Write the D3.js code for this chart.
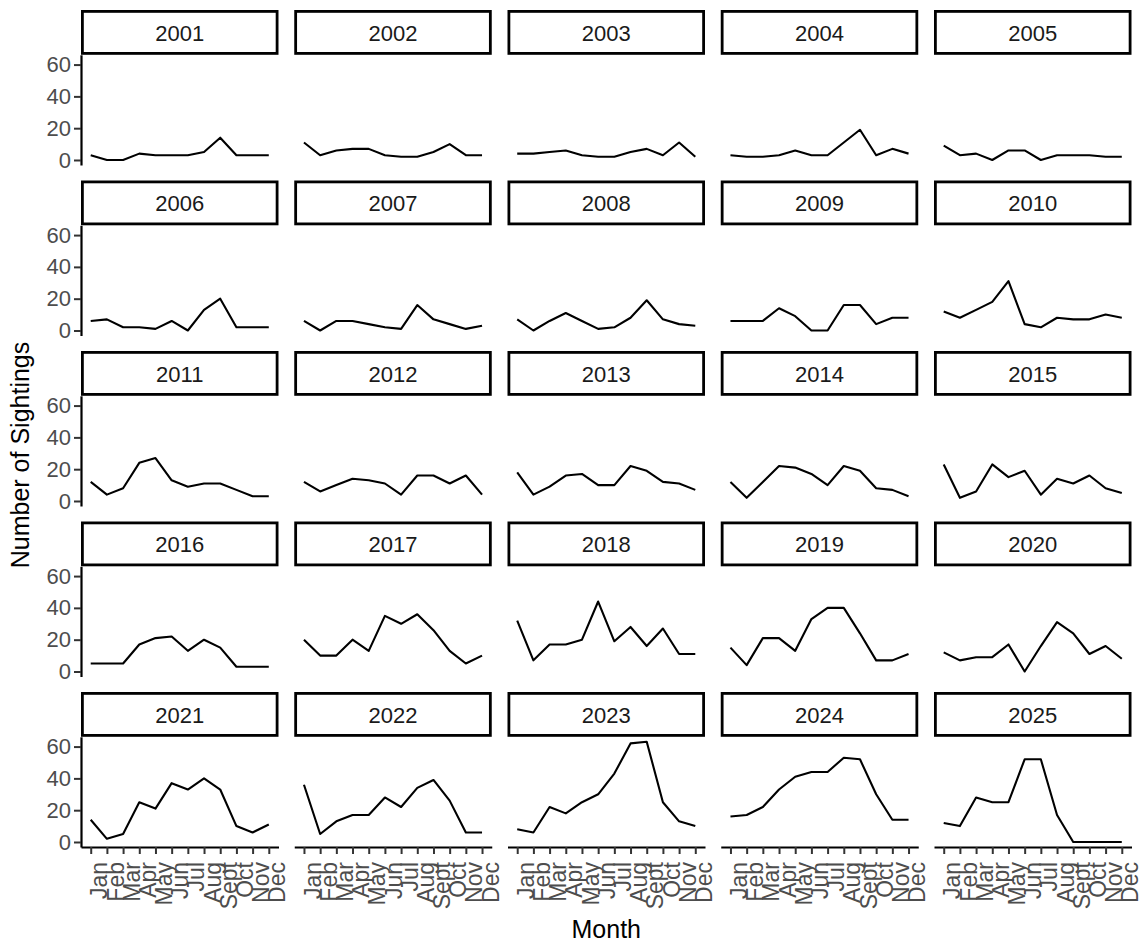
<!DOCTYPE html>
<html lang="en">
<head>
<meta charset="utf-8">
<title>Sightings by month</title>
<script src="https://cdn.jsdelivr.net/npm/d3@7"></script>
<style>
  body { margin: 0; background: #fff; }
  svg text { font-family: "Liberation Sans", Arial, sans-serif; }
</style>
</head>
<body>
<svg width="1144" height="943"></svg>
<script>
// month tick labels and facet years
const months = ["Jan", "Feb", "Mar", "Apr", "May", "Jun", "Jul", "Aug", "Sept", "Oct", "Nov", "Dec"];
const years = [2001, 2002, 2003, 2004, 2005, 2006, 2007, 2008, 2009, 2010,
               2011, 2012, 2013, 2014, 2015, 2016, 2017, 2018, 2019, 2020,
               2021, 2022, 2023, 2024, 2025];

// sightings per month, one row per year
const sightings = [
  [3, 0, 0, 4, 3, 3, 3, 5, 14, 3, 3, 3],
  [11, 3, 6, 7, 7, 3, 2, 2, 5, 10, 3, 3],
  [4, 4, 5, 6, 3, 2, 2, 5, 7, 3, 11, 2],
  [3, 2, 2, 3, 6, 3, 3, 11, 19, 3, 7, 4],
  [9, 3, 4, 0, 6, 6, 0, 3, 3, 3, 2, 2],
  [6, 7, 2, 2, 1, 6, 0, 13, 20, 2, 2, 2],
  [6, 0, 6, 6, 4, 2, 1, 16, 7, 4, 1, 3],
  [7, 0, 6, 11, 6, 1, 2, 8, 19, 7, 4, 3],
  [6, 6, 6, 14, 9, 0, 0, 16, 16, 4, 8, 8],
  [12, 8, 13, 18, 31, 4, 2, 8, 7, 7, 10, 8],
  [12, 4, 8, 24, 27, 13, 9, 11, 11, 7, 3, 3],
  [12, 6, 10, 14, 13, 11, 4, 16, 16, 11, 16, 4],
  [18, 4, 9, 16, 17, 10, 10, 22, 19, 12, 11, 7],
  [12, 2, 12, 22, 21, 17, 10, 22, 19, 8, 7, 3],
  [23, 2, 6, 23, 15, 19, 4, 14, 11, 16, 8, 5],
  [5, 5, 5, 17, 21, 22, 13, 20, 15, 3, 3, 3],
  [20, 10, 10, 20, 13, 35, 30, 36, 26, 13, 5, 10],
  [32, 7, 17, 17, 20, 44, 19, 28, 16, 27, 11, 11],
  [15, 4, 21, 21, 13, 33, 40, 40, 24, 7, 7, 11],
  [12, 7, 9, 9, 17, 0, 16, 31, 24, 11, 16, 8],
  [14, 2, 5, 25, 21, 37, 33, 40, 33, 10, 6, 11],
  [36, 5, 13, 17, 17, 28, 22, 34, 39, 26, 6, 6],
  [8, 6, 22, 18, 25, 30, 43, 62, 63, 25, 13, 10],
  [16, 17, 22, 33, 41, 44, 44, 53, 52, 30, 14, 14],
  [12, 10, 28, 25, 25, 52, 52, 17, 0, 0, 0, 0]
];
const yTicks = [0, 20, 40, 60];

const nCols = 5;
const nRows = Math.ceil(years.length / nCols);
const marginLeft = 81, marginTop = 10;
const panelW = 197.5, gapX = 15.75;
const stripH = 44.8, panelH = 110.2, rowStep = 170.5;
const fontStack = '"Liberation Sans", Arial, sans-serif';
const textSize = 22;

const svg = d3.select('svg');

const x = d3.scalePoint().domain(months).range([0, panelW]).padding(0.6);
const maxVal = d3.max(sightings, r => d3.max(r));
const pad = maxVal * 0.05;
const y = d3.scaleLinear().domain([-pad, maxVal + pad]).range([panelH, 0]);

const line = d3.line()
    .x((d, i) => x(months[i]))
    .y(d => y(d));

years.forEach((yr, k) => {
    const col = k % nCols;
    const row = Math.floor(k / nCols);
    const px = marginLeft + col * (panelW + gapX);
    const sy = marginTop + row * rowStep;
    const py = sy + stripH;

    // strip
    const strip = svg.append('g').attr('transform', `translate(${px}, ${sy})`);
    strip.append('rect')
        .attr('x', 1.4).attr('y', 1.4)
        .attr('width', panelW - 2.8).attr('height', stripH - 2.8)
        .attr('fill', '#fff').attr('stroke', '#000').attr('stroke-width', 2.8);
    strip.append('text')
        .attr('x', panelW / 2).attr('y', stripH / 2 + 1)
        .attr('text-anchor', 'middle').attr('dominant-baseline', 'central')
        .attr('font-size', textSize).attr('fill', '#1a1a1a')
        .text(yr);

    const g = svg.append('g').attr('transform', `translate(${px}, ${py})`);

    if (col === 0) {
        const ya = g.append('g')
            .call(d3.axisLeft(y).tickValues(yTicks).tickSize(7).tickSizeOuter(0).tickPadding(3));
        ya.select('.domain').attr('stroke', '#000').attr('stroke-width', 2.2);
        ya.selectAll('.tick line').attr('stroke', '#333').attr('stroke-width', 2);
        ya.selectAll('.tick text').attr('font-size', textSize).attr('fill', '#4d4d4d')
            .style('font-family', fontStack);
    }

    if (row === nRows - 1) {
        const xa = g.append('g')
            .attr('transform', `translate(0, ${panelH})`)
            .call(d3.axisBottom(x).tickSize(7).tickSizeOuter(0).tickPadding(0));
        xa.select('.domain').attr('stroke', '#000').attr('stroke-width', 2.2);
        xa.selectAll('.tick line').attr('stroke', '#333').attr('stroke-width', 2);
        xa.selectAll('.tick text')
            .attr('font-size', 23).attr('fill', '#4d4d4d')
            .style('font-family', fontStack)
            .attr('text-anchor', 'end')
            .attr('transform', 'rotate(-90)')
            .attr('x', -15).attr('y', 0).attr('dy', '0.7em');
    }

    g.append('path')
        .datum(sightings[k])
        .attr('d', line)
        .attr('fill', 'none')
        .attr('stroke', '#000')
        .attr('stroke-width', 2.1)
        .attr('stroke-linejoin', 'round');
});

// axis titles
svg.append('text')
    .attr('x', marginLeft + (nCols * panelW + (nCols - 1) * gapX) / 2)
    .attr('y', 938)
    .attr('text-anchor', 'middle')
    .attr('font-size', 25)
    .attr('fill', '#000')
    .text('Month');

svg.append('text')
    .attr('transform', 'translate(29, 455) rotate(-90)')
    .attr('text-anchor', 'middle')
    .attr('font-size', 25)
    .attr('fill', '#000')
    .text('Number of Sightings');
</script>
</body>
</html>
